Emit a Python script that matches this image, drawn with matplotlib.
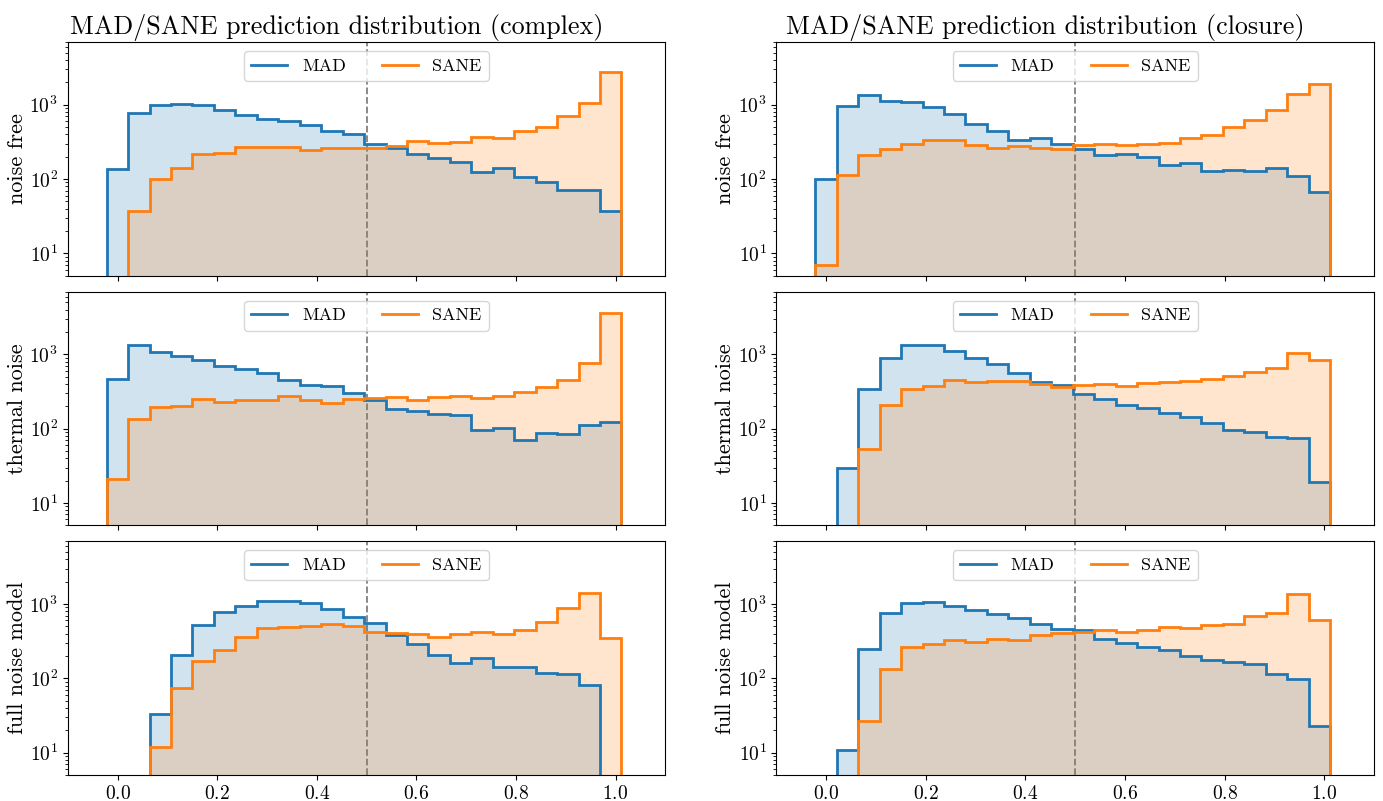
import numpy as np
import matplotlib
matplotlib.use('Agg')
import matplotlib.pyplot as plt
from matplotlib.lines import Line2D

plt.rcParams['font.family'] = 'serif'
plt.rcParams['font.serif'] = ['cmr10']
plt.rcParams['mathtext.fontset'] = 'cm'
plt.rcParams['axes.unicode_minus'] = False
plt.rcParams['axes.formatter.use_mathtext'] = True

# bin edges (24 bins)
edges = np.linspace(-0.022, 1.012, 25)

row_labels = ['noise free', 'thermal noise', 'full noise model']
col_titles = ['MAD/SANE prediction distribution (complex)',
              'MAD/SANE prediction distribution (closure)']

# complex, counts per bin
mad_complex_free = [137, 783, 980, 1030, 990, 841, 737, 652, 607, 532, 443, 400,
                    292, 261, 215, 192, 170, 124, 141, 107, 92, 71, 71, 37]
sane_complex_free = [0, 37, 100, 143, 215, 221, 266, 274, 269, 248, 263, 258,
                     261, 280, 323, 307, 313, 372, 357, 443, 506, 707, 1063, 2800]
mad_complex_thermal = [467, 1328, 1073, 950, 833, 701, 634, 567, 458, 389, 381, 299,
                       247, 182, 173, 160, 154, 96, 102, 70, 88, 86, 113, 124]
sane_complex_thermal = [21, 134, 193, 204, 251, 232, 240, 242, 276, 244, 225, 249,
                        260, 268, 244, 268, 273, 260, 276, 311, 359, 458, 761, 3660]
mad_complex_full = [0, 0, 33, 206, 521, 790, 951, 1085, 1096, 1041, 867, 679,
                    548, 380, 292, 206, 161, 186, 143, 140, 118, 113, 82, 0]
sane_complex_full = [0, 0, 12, 73, 173, 238, 361, 480, 485, 510, 537, 505,
                     425, 413, 392, 365, 400, 417, 400, 452, 571, 877, 1386, 347]

# closure, counts per bin
mad_closure_free = [100, 960, 1360, 1130, 1074, 940, 751, 553, 450, 338, 356, 296,
                    256, 209, 215, 199, 154, 162, 129, 133, 129, 142, 110, 66]
sane_closure_free = [7, 112, 209, 254, 299, 331, 331, 284, 262, 275, 264, 251,
                     284, 296, 287, 293, 308, 359, 394, 509, 631, 849, 1417, 1888]
mad_closure_thermal = [0, 30, 341, 894, 1346, 1346, 1108, 903, 743, 563, 427, 386,
                       290, 249, 211, 189, 165, 145, 121, 95, 91, 77, 76, 19]
sane_closure_thermal = [0, 0, 54, 209, 341, 370, 450, 424, 441, 432, 394, 366,
                        382, 398, 378, 411, 424, 441, 464, 514, 581, 664, 1042, 840]
mad_closure_full = [0, 11, 249, 751, 1020, 1063, 950, 840, 728, 657, 535, 455,
                    450, 341, 302, 262, 244, 199, 179, 167, 157, 113, 97, 23]
sane_closure_full = [0, 0, 27, 132, 264, 287, 325, 308, 341, 325, 378, 402,
                     419, 450, 424, 450, 489, 475, 525, 541, 692, 766, 1360, 600]

mad = [[mad_complex_free, mad_closure_free],
       [mad_complex_thermal, mad_closure_thermal],
       [mad_complex_full, mad_closure_full]]
sane = [[sane_complex_free, sane_closure_free],
        [sane_complex_thermal, sane_closure_thermal],
        [sane_complex_full, sane_closure_full]]

centers = 0.5 * (edges[:-1] + edges[1:])

fig, axes = plt.subplots(3, 2, figsize=(13.83, 8.01), dpi=100, sharex=True)
fig.subplots_adjust(left=0.049, right=0.9935, bottom=0.0325, top=0.9476,
                    hspace=0.068, wspace=0.186)

handles = [Line2D([], [], color='C0', lw=2, label='MAD'),
           Line2D([], [], color='C1', lw=2, label='SANE')]

for i in range(3):
    for j in range(2):
        ax = axes[i, j]
        ax.hist(centers, bins=edges, weights=mad[i][j], histtype='stepfilled',
                color='C0', alpha=0.2, log=True)
        ax.hist(centers, bins=edges, weights=sane[i][j], histtype='stepfilled',
                color='C1', alpha=0.2, log=True)
        ax.hist(centers, bins=edges, weights=mad[i][j], histtype='step',
                color='C0', lw=2, log=True)
        ax.hist(centers, bins=edges, weights=sane[i][j], histtype='step',
                color='C1', lw=2, log=True)
        ax.axvline(0.5, color='grey', ls='--', lw=1.3, zorder=0.5)
        ax.set_xlim(-0.1, 1.1)
        ax.set_ylim(5, 7000)
        ax.set_ylabel(row_labels[i], fontsize=16, labelpad=2)
        ax.tick_params(labelsize=14)
        ax.legend(handles=handles, loc='upper center', ncol=2, fontsize=13)
        if i == 0:
            ax.set_title(col_titles[j], fontsize=18.7)
            ax.title.set_x(0.45)

fig.savefig('out.png', dpi=100)
